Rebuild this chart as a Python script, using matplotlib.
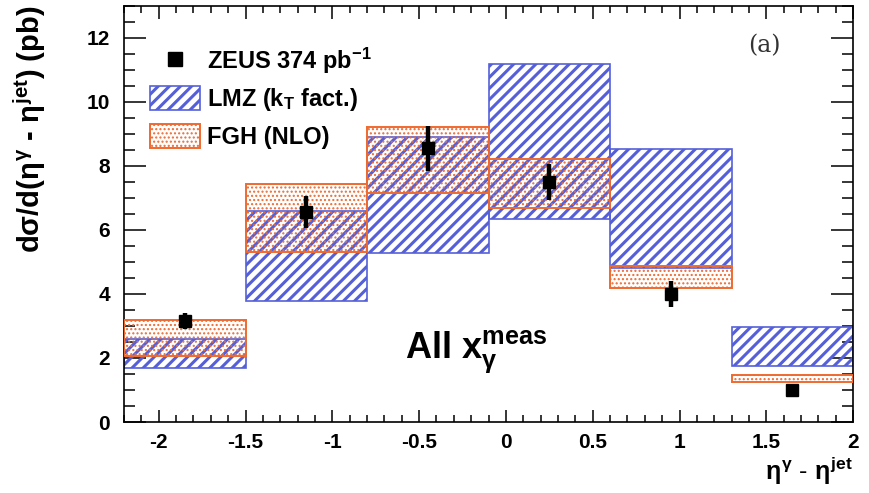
import numpy as np
import matplotlib
matplotlib.use("Agg")
import matplotlib.pyplot as plt
from matplotlib.patches import Patch, Rectangle
from matplotlib.lines import Line2D
from matplotlib.legend_handler import HandlerPatch
from matplotlib.ticker import MultipleLocator

plt.rcParams['font.family'] = ['Liberation Sans', 'DejaVu Sans']
plt.rcParams['mathtext.fontset'] = 'custom'
plt.rcParams['mathtext.rm'] = 'Liberation Sans:bold'
plt.rcParams['mathtext.it'] = 'Liberation Sans:bold'
plt.rcParams['mathtext.bf'] = 'Liberation Sans:bold'

# bins in eta^gamma - eta^jet
bin_edges = [-2.2, -1.5, -0.8, -0.1, 0.6, 1.3, 2.0]

# ZEUS data
data_x = [-1.85, -1.15, -0.45, 0.25, 0.95, 1.65]
data_y = [3.15, 6.55, 8.55, 7.5, 4.0, 1.0]
data_err = [0.25, 0.5, 0.7, 0.55, 0.4, 0.1]

# LMZ (kT factorisation) band
lmz_lo = [1.70, 3.78, 5.27, 6.34, 4.80, 1.75]
lmz_hi = [2.60, 6.60, 8.92, 11.18, 8.52, 2.98]

# FGH (NLO) band
fgh_lo = [2.06, 5.30, 7.17, 6.68, 4.20, 1.26]
fgh_hi = [3.18, 7.45, 9.23, 8.23, 4.87, 1.47]

xtick_vals = [-2, -1.5, -1, -0.5, 0, 0.5, 1, 1.5, 2]
xtick_labels = ['-2', '-1.5', '-1', '-0.5', '0', '0.5', '1', '1.5', '2']
ytick_vals = [0, 2, 4, 6, 8, 10, 12]

blue = '#5560d8'
orange = '#ee6a30'
lmz_hatch_lw = 2.2
fgh_hatch_lw = 1.0

fig = plt.figure(figsize=(8.69, 4.93), dpi=100)
ax = fig.add_axes([0.1427, 0.144, 0.839, 0.844])

left = np.array(bin_edges[:-1])
width = np.diff(bin_edges)

with plt.rc_context({'hatch.linewidth': lmz_hatch_lw}):
    ax.bar(left, np.subtract(lmz_hi, lmz_lo), width=width, bottom=lmz_lo,
           align='edge', facecolor='none', edgecolor=blue, hatch='///',
           linewidth=1.2, zorder=2)
with plt.rc_context({'hatch.linewidth': fgh_hatch_lw}):
    ax.bar(left, np.subtract(fgh_hi, fgh_lo), width=width, bottom=fgh_lo,
           align='edge', facecolor='none', edgecolor=orange, hatch='....',
           linewidth=1.4, zorder=3)

ax.errorbar(data_x, data_y, yerr=data_err, fmt='s', color='black',
            markersize=9, elinewidth=3.2, capsize=0, zorder=5)

ax.set_xlim(-2.2, 2.0)
ax.set_ylim(0, 13)
ax.xaxis.set_minor_locator(MultipleLocator(0.1))
ax.yaxis.set_minor_locator(MultipleLocator(0.5))
ax.set_xticks(xtick_vals)
ax.set_xticklabels(xtick_labels)
ax.set_yticks(ytick_vals)
ax.tick_params(which='both', direction='in', top=True, right=True, width=1.1,
               labelsize=15)
ax.tick_params(axis='y', which='major', length=16, pad=10)
ax.tick_params(axis='y', which='minor', length=8)
ax.tick_params(axis='x', which='major', length=9, pad=8)
ax.tick_params(axis='x', which='minor', length=5)
for lbl in ax.get_xticklabels() + ax.get_yticklabels():
    lbl.set_fontweight('bold')
for sp in ax.spines.values():
    sp.set_linewidth(1.2)

ax.set_ylabel(r'd$\sigma$/d($\eta^{\gamma}$ - $\eta^{\mathrm{jet}}$) (pb)',
              fontsize=21, fontweight='bold', loc='top')
ax.yaxis.set_label_coords(-0.104, 1.0)
ax.text(1.0, -0.118, r'$\eta^{\gamma}$ - $\eta^{\mathrm{jet}}$', transform=ax.transAxes,
        ha='right', va='center', fontsize=18)

ax.text(-0.17, 2.2, r'All x$_{\gamma}^{\mathrm{meas}}$', ha='center', va='center',
        fontsize=26, fontweight='bold')
ax.text(0.878, 0.905, '(a)', transform=ax.transAxes, ha='center', va='center',
        fontsize=17, family='DejaVu Serif', color='#333333')


def hatched_handle(hatch_lw):
    def make(legend, orig_handle, xdescent, ydescent, width, height, fontsize):
        with plt.rc_context({'hatch.linewidth': hatch_lw}):
            return Rectangle((-xdescent, -ydescent), width, height)
    return HandlerPatch(patch_func=make)


lmz_handle = Patch(facecolor='none', edgecolor=blue, hatch='///', linewidth=1.2)
fgh_handle = Patch(facecolor='none', edgecolor=orange, hatch='....', linewidth=1.4)
handles = [
    Line2D([], [], marker='s', color='black', linestyle='none', markersize=10),
    lmz_handle,
    fgh_handle,
]
labels = [r'ZEUS 374 pb$^{-1}$', r'LMZ (k$_{\mathrm{T}}$ fact.)', 'FGH (NLO)']
leg = ax.legend(handles, labels, loc='upper left', bbox_to_anchor=(0.036, 0.905),
                frameon=False, prop={'size': 17, 'weight': 'bold'},
                handlelength=2.1, handleheight=1.2, labelspacing=0.45,
                handletextpad=0.3, borderpad=0, borderaxespad=0,
                handler_map={lmz_handle: hatched_handle(lmz_hatch_lw),
                             fgh_handle: hatched_handle(fgh_hatch_lw)})

fig.savefig('out.png', dpi=100)
